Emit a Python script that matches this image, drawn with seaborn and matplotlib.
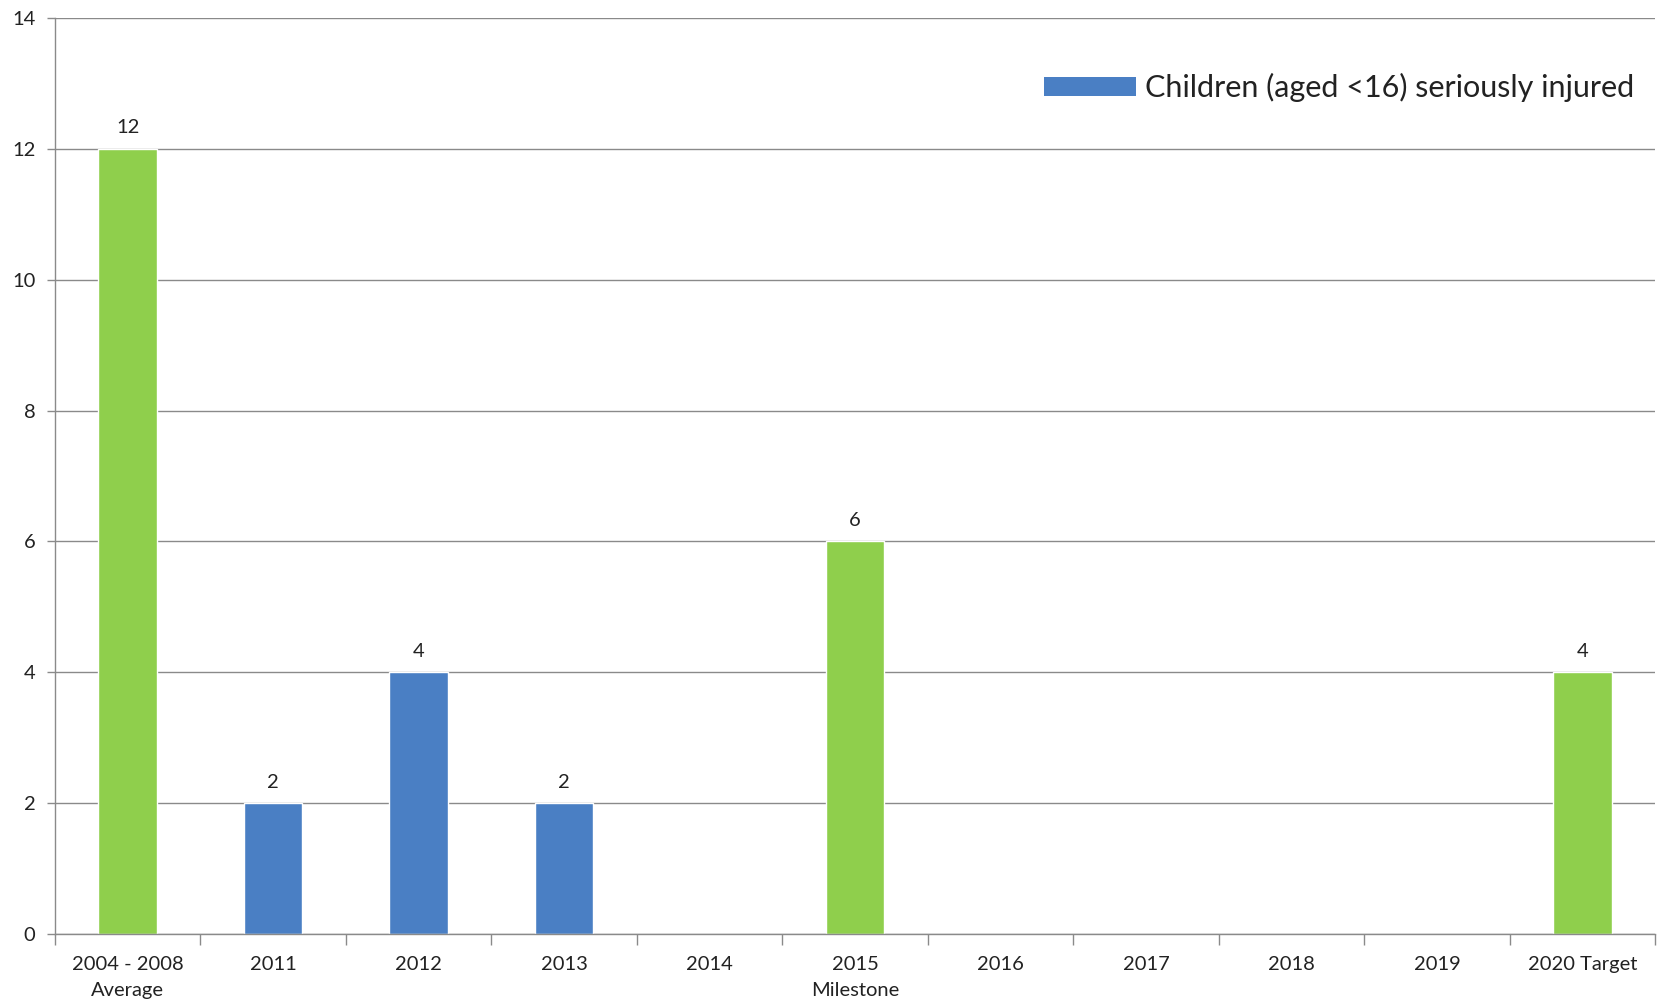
import matplotlib
matplotlib.use("Agg")
import matplotlib.pyplot as plt
import seaborn as sns
import pandas as pd
import numpy as np
from matplotlib.patches import Patch

categories = ["2004 - 2008\nAverage", "2011", "2012", "2013", "2014", "2015\nMilestone",
              "2016", "2017", "2018", "2019", "2020 Target"]
values = [12, 2, 4, 2, np.nan, 6, np.nan, np.nan, np.nan, np.nan, 4]
kinds = ["target", "actual", "actual", "actual", "actual", "target",
         "actual", "actual", "actual", "actual", "target"]
legend_label = "Children (aged <16) seriously injured"

GREEN = "#8fcf4c"
BLUE = "#4a7fc4"

sns.set_theme(style="white")
plt.rcParams["font.family"] = ["Lato", "DejaVu Sans"]

df = pd.DataFrame({"category": categories, "value": values, "kind": kinds}).dropna()

fig = plt.figure(figsize=(16.61, 10.07), dpi=100)
ax = fig.add_axes([0.033, 0.0725, 0.9635, 0.9095])

sns.barplot(data=df, x="category", y="value", hue="kind", order=categories,
            palette={"target": GREEN, "actual": BLUE}, dodge=False, width=0.4,
            errorbar=None, legend=False, ax=ax, saturation=1)

for cont in ax.containers:
    ax.bar_label(cont, labels=[f"{b.get_height():g}" for b in cont],
                 padding=9, fontsize=14.5, color="#222222")

ax.set_ylim(0, 14)
ax.set_yticks(range(0, 15, 2))
ax.set_xlim(-0.5, len(categories) - 0.5)
ax.set_xlabel("")
ax.set_ylabel("")
ax.yaxis.grid(True, color="#8a8a8a", linewidth=1.0)
ax.set_axisbelow(True)
for s in ["top", "right"]:
    ax.spines[s].set_visible(False)
for s in ["left", "bottom"]:
    ax.spines[s].set_color("#8a8a8a")
    ax.spines[s].set_linewidth(1.0)

ax.set_xticks(np.arange(-0.5, len(categories), 1.0), minor=True)
ax.tick_params(axis="x", which="major", length=0, labelsize=14.5, labelcolor="#222222", pad=16)
ax.tick_params(axis="x", which="minor", length=8, color="#8a8a8a", width=1, direction="out", bottom=True)
ax.tick_params(axis="y", which="major", length=6, color="#8a8a8a", width=1, direction="out",
               left=True, labelsize=14.5, labelcolor="#222222", pad=8)
for lbl in ax.get_xticklabels():
    lbl.set_linespacing(1.6)

handle = Patch(facecolor=BLUE, edgecolor="none")
ax.legend([handle], [legend_label], loc="upper right", bbox_to_anchor=(1.004, 0.97),
          frameon=False, fontsize=22, handlelength=3.0, handleheight=0.55,
          handletextpad=0.3, labelcolor="#222222")

fig.savefig("out.png", dpi=100, facecolor="white")
